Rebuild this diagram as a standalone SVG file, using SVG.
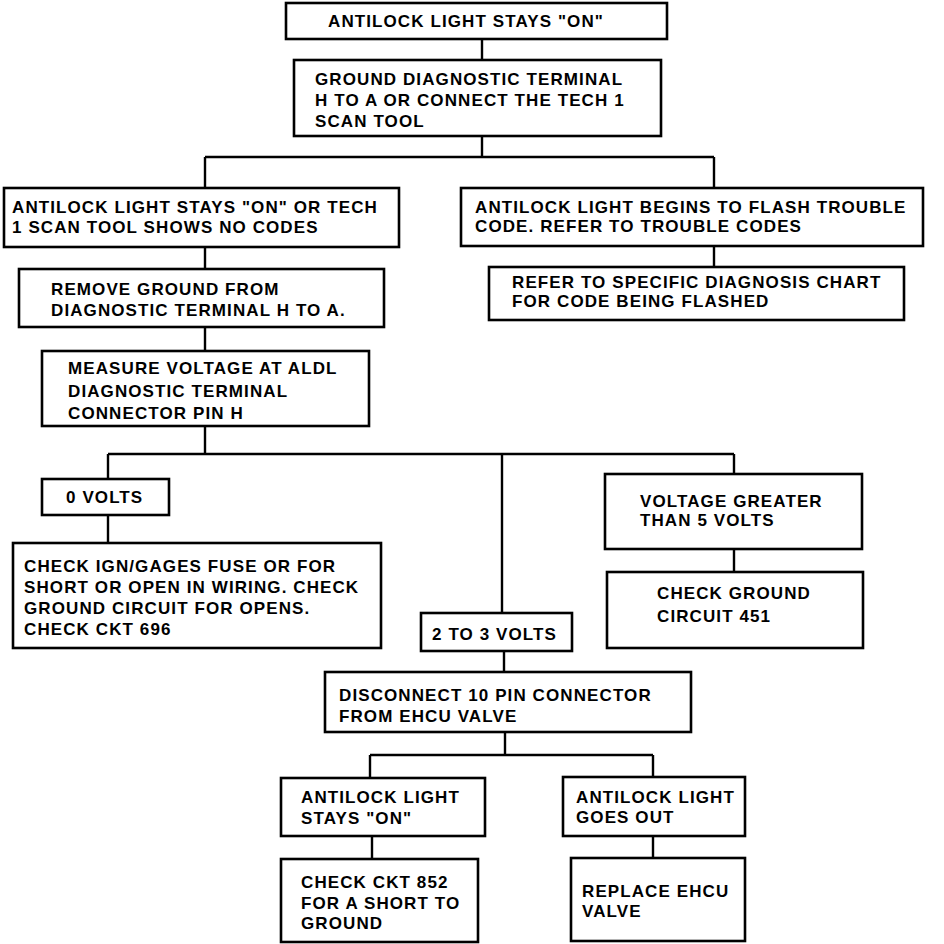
<svg xmlns="http://www.w3.org/2000/svg" width="944" height="944" viewBox="0 0 944 944">
<style>
.box{fill:#fff;stroke:#000;stroke-width:2.6}
.ln{stroke:#000;stroke-width:2.4;fill:none}
text{font-family:"Liberation Sans",Arial,sans-serif;font-weight:bold;font-size:17px;letter-spacing:1.1px;fill:#000}
</style>
<rect width="944" height="944" fill="#fff"/>
<g id="connectors">
<path class="ln" d="M482 39V60M482 136V157M205 157H714M205 157V188M714 157V188M714 246V267M205 247V269M205 327V351M205 426V454M108 454H734M108 454V479M108 515V543M502 454V613M734 454V474M734 549V572M504 651V672M505 732V755M370 755H653M370 755V778M372 836V859M653 755V777M653 836V858"/>
</g>
<g id="n1"><rect class="box" x="286" y="3" width="381" height="36"/><text x="328" y="27">ANTILOCK LIGHT STAYS "ON"</text></g>
<g id="n2"><rect class="box" x="294" y="60" width="367" height="76"/><text x="315" y="85">GROUND DIAGNOSTIC TERMINAL</text><text x="315" y="106">H TO A OR CONNECT THE TECH 1</text><text x="315" y="127">SCAN TOOL</text></g>
<g id="n3"><rect class="box" x="4" y="188" width="395" height="59"/><text x="12" y="213">ANTILOCK LIGHT STAYS "ON" OR TECH</text><text x="12" y="233">1 SCAN TOOL SHOWS NO CODES</text></g>
<g id="n4"><rect class="box" x="461" y="188" width="462" height="58"/><text x="475" y="213">ANTILOCK LIGHT BEGINS TO FLASH TROUBLE</text><text x="475" y="232">CODE. REFER TO TROUBLE CODES</text></g>
<g id="n5"><rect class="box" x="489" y="267" width="415" height="53"/><text x="512" y="288">REFER TO SPECIFIC DIAGNOSIS CHART</text><text x="512" y="307">FOR CODE BEING FLASHED</text></g>
<g id="n6"><rect class="box" x="19" y="269" width="365" height="58"/><text x="51" y="295">REMOVE GROUND FROM</text><text x="51" y="316">DIAGNOSTIC TERMINAL H TO A.</text></g>
<g id="n7"><rect class="box" x="42" y="351" width="327" height="75"/><text x="68" y="374">MEASURE VOLTAGE AT ALDL</text><text x="68" y="397">DIAGNOSTIC TERMINAL</text><text x="68" y="419">CONNECTOR PIN H</text></g>
<g id="n8"><rect class="box" x="42" y="479" width="127" height="36"/><text x="66" y="503">0 VOLTS</text></g>
<g id="n9"><rect class="box" x="13" y="543" width="368" height="105"/><text x="24" y="572">CHECK IGN/GAGES FUSE OR FOR</text><text x="24" y="593">SHORT OR OPEN IN WIRING. CHECK</text><text x="24" y="614">GROUND CIRCUIT FOR OPENS.</text><text x="24" y="635">CHECK CKT 696</text></g>
<g id="n10"><rect class="box" x="421" y="613" width="151" height="38"/><text x="432" y="640">2 TO 3 VOLTS</text></g>
<g id="n11"><rect class="box" x="605" y="474" width="257" height="75"/><text x="640" y="507">VOLTAGE GREATER</text><text x="640" y="526">THAN 5 VOLTS</text></g>
<g id="n12"><rect class="box" x="607" y="572" width="256" height="76"/><text x="657" y="599">CHECK GROUND</text><text x="657" y="622">CIRCUIT 451</text></g>
<g id="n13"><rect class="box" x="325" y="672" width="366" height="60"/><text x="339" y="701">DISCONNECT 10 PIN CONNECTOR</text><text x="339" y="722">FROM EHCU VALVE</text></g>
<g id="n14"><rect class="box" x="281" y="778" width="204" height="58"/><text x="301" y="803">ANTILOCK LIGHT</text><text x="301" y="824">STAYS "ON"</text></g>
<g id="n15"><rect class="box" x="563" y="777" width="182" height="59"/><text x="576" y="803">ANTILOCK LIGHT</text><text x="576" y="823">GOES OUT</text></g>
<g id="n16"><rect class="box" x="281" y="859" width="197" height="83"/><text x="301" y="888">CHECK CKT 852</text><text x="301" y="909">FOR A SHORT TO</text><text x="301" y="929">GROUND</text></g>
<g id="n17"><rect class="box" x="571" y="858" width="174" height="83"/><text x="582" y="897">REPLACE EHCU</text><text x="582" y="917">VALVE</text></g>
</svg>
